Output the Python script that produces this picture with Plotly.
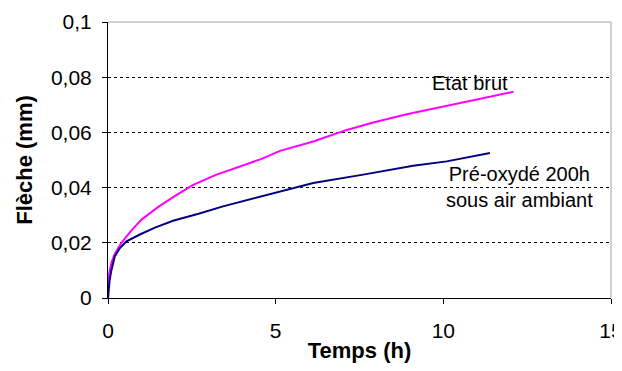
import plotly.graph_objects as go

# data
t_brut = [0, 0.02, 0.1, 0.2, 0.4, 0.7, 1.0, 1.5, 2.0, 2.54, 3.2, 3.93, 4.6, 5.13, 6.12,
          7.12, 7.91, 8.91, 9.9, 10.9, 11.5, 12.09]
y_brut = [0, 0.008, 0.0127, 0.016, 0.02, 0.0245, 0.0284, 0.033, 0.037, 0.041, 0.0445, 0.0477,
          0.0505, 0.0533, 0.0567, 0.0609, 0.0636, 0.0666, 0.0691, 0.0718, 0.0732, 0.0747]

t_oxy = [0, 0.02, 0.05, 0.1, 0.2, 0.35, 0.55, 0.95, 1.4, 1.94, 2.7, 3.43, 4.4, 5.13, 6.12,
         7.61, 9.1, 10.1, 10.8, 11.39]
y_oxy = [0, 0.004, 0.0066, 0.01, 0.015, 0.018, 0.0205, 0.023, 0.0255, 0.028, 0.0305, 0.0332,
         0.0362, 0.0386, 0.0417, 0.0447, 0.0479, 0.0495, 0.051, 0.0525]

x_ticks = [0, 5, 10, 15]
y_ticks = [0, 0.02, 0.04, 0.06, 0.08, 0.1]
y_labels = ['0', '0,02', '0,04', '0,06', '0,08', '0,1']

font = 'Arial, Liberation Sans, sans-serif'

fig = go.Figure()
fig.add_trace(go.Scatter(x=t_brut, y=y_brut, mode='lines', name='Etat brut',
                         line=dict(color='#FF00FF', width=2)))
fig.add_trace(go.Scatter(x=t_oxy, y=y_oxy, mode='lines', name='Pré-oxydé 200h',
                         line=dict(color='#000080', width=2)))

# labels next to the curves
fig.add_annotation(x=10.8, y=0.0779, text='Etat brut', showarrow=False,
                   font=dict(family=font, size=20, color='black'))
fig.add_annotation(x=12.26, y=0.0402, text='Pré-oxydé 200h<br>sous air ambiant', showarrow=False,
                   font=dict(family=font, size=20, color='black'))

# grey border on top and right
fig.add_shape(type='line', xref='paper', yref='paper', x0=0, x1=1, y0=1, y1=1,
              line=dict(color='#a0a0a0', width=1))
fig.add_shape(type='line', xref='paper', yref='paper', x0=1, x1=1, y0=0, y1=1,
              line=dict(color='#a0a0a0', width=1))

# page body has an 8px margin all round, keep the figure inside the window (no scrollbar)
fig.update_layout(
    width=614, height=355,
    margin=dict(l=100, r=11, t=14, b=65),
    plot_bgcolor='white', paper_bgcolor='white',
    showlegend=False,
    font=dict(family=font, size=20, color='black'),
)
fig.update_xaxes(range=[0, 15], tickvals=x_ticks, showgrid=False, zeroline=False,
                 showline=True, linecolor='black', linewidth=1, automargin=False,
                 ticks='outside', ticklen=5, tickcolor='black',
                 ticklabelstandoff=9, ticklabeloverflow='allow',
                 tickfont=dict(size=21, color='black'),
                 title=dict(text='<b>Temps (h)</b>', font=dict(size=22), standoff=6))
fig.update_yaxes(range=[0, 0.1], tickvals=y_ticks, ticktext=y_labels,
                 showgrid=True, gridcolor='black', griddash='dot', gridwidth=1,
                 zeroline=False, showline=True, linecolor='black', linewidth=1, automargin=False,
                 ticks='outside', ticklen=5, tickcolor='black',
                 ticklabelstandoff=6,
                 tickfont=dict(size=21, color='black'),
                 title=dict(text='<b>Flèche (mm)</b>', font=dict(size=22), standoff=12))

fig.write_html("out.html")
